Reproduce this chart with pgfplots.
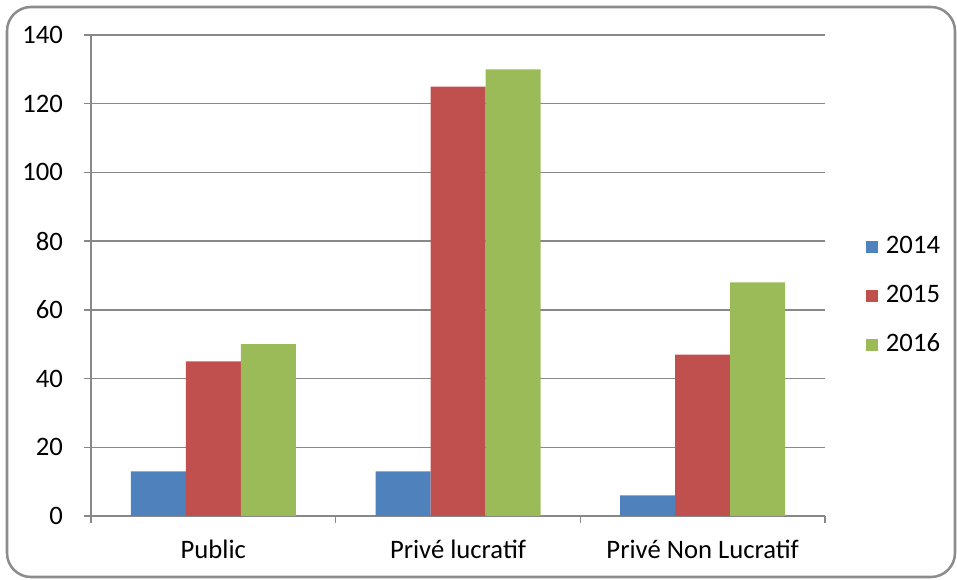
\documentclass[border=0pt]{standalone}
\usepackage{pgfplots}
\pgfplotsset{compat=1.18}
\usepackage{fontspec}
\setmainfont{Carlito}
\definecolor{cblue}{HTML}{4F81BD}
\definecolor{cred}{HTML}{C0504D}
\definecolor{cgreen}{HTML}{9BBB59}
\definecolor{cgrid}{HTML}{888888}
\definecolor{cframe}{HTML}{8C8C8C}
\begin{document}
\fontsize{20}{23}\selectfont
\begin{tikzpicture}
\path[use as bounding box] (0,0) rectangle (717.75pt,435pt);
\draw[cframe, line width=1.9pt, rounded corners=18pt] (5.25pt,2.25pt) rectangle (716.25pt,429.75pt);
\begin{axis}[
  at={(68.25pt,48pt)}, anchor=south west,
  scale only axis, width=550.5pt, height=360.75pt,
  xmin=-0.5, xmax=2.5, ymin=0, ymax=140,
  ytick={0,20,...,140},
  xtick={-0.5,0.5,1.5,2.5}, xticklabels={},
  extra x ticks={0,1,2},
  extra x tick labels={Public,Privé lucratif,Privé Non Lucratif},
  extra x tick style={major tick length=0pt, grid=none},
  axis x line*=bottom, axis y line*=left,
  axis line style={cgrid, line width=1.1pt},
  tick style={cgrid, line width=1.1pt},
  major tick length=5.25pt,
  tick align=outside,
  ymajorgrids, grid style={cgrid, line width=1.1pt},
  ybar=0pt, bar width=41.25pt,
  /pgf/number format/assume math mode=true,
  ticklabel style={font=\fontsize{20}{23}\selectfont, text=black},
  xticklabel style={yshift=-11pt},
  yticklabel style={xshift=-9pt},
  legend style={at={(1.05,0.457)}, anchor=west, draw=none, fill=none,
    font=\fontsize{20}{23}\selectfont, row sep=16.6pt,
    /tikz/every odd column/.append style={column sep=4pt}},
  legend cell align=left,
  legend image code/.code={\fill[#1] (0pt,-4.5pt) rectangle (9pt,4.5pt);},
]
\addplot[fill=cblue, draw=none] coordinates {(0,13) (1,13) (2,6)};
\addplot[fill=cred, draw=none] coordinates {(0,45) (1,125) (2,47)};
\addplot[fill=cgreen, draw=none] coordinates {(0,50) (1,130) (2,68)};
\legend{2014,2015,2016}
\end{axis}
\end{tikzpicture}
\end{document}
